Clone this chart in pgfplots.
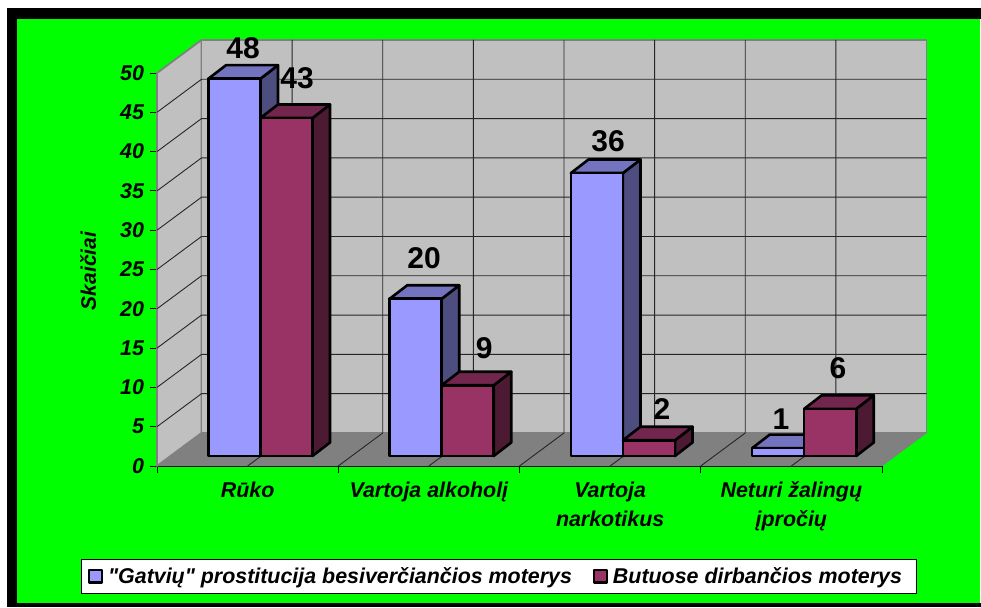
\documentclass[border=0pt]{standalone}
\usepackage{fontspec}
\setmainfont{Liberation Sans}[Ligatures=TeXOff]
\usepackage{pgfplots}
\pgfplotsset{compat=1.18}
\definecolor{Afront}{HTML}{9999FF}
\definecolor{Atop}{HTML}{7373BF}
\definecolor{Aside}{HTML}{4D4D80}
\definecolor{Bfront}{HTML}{993366}
\definecolor{Btop}{HTML}{73264D}
\definecolor{Bside}{HTML}{4D1A33}
\definecolor{wall}{HTML}{C0C0C0}
\definecolor{floorc}{HTML}{808080}
\tikzset{
  wallline/.style={draw=floorc,line width=1.8pt,line join=round},
  gl/.style={draw=black!85,line width=0.9pt},
  face/.style={draw=black,line width=2.6pt,line join=round},
  lab/.style={font=\bfseries\fontsize{30}{32}\selectfont,anchor=center,inner sep=0pt}
}
\begin{document}
\begin{tikzpicture}
\useasboundingbox (0pt,0pt) rectangle (981pt,607pt);
\fill[white] (0pt,0pt) rectangle (981pt,607pt);
\fill[black] (7pt,0pt) rectangle (981pt,599pt);
\fill[green] (17pt,4pt) rectangle (980pt,588pt);
\fill[white] (980pt,4pt) rectangle (981pt,588pt);
% walls, floor, grid, axes
\begin{axis}[
  at={(157pt,141pt)},anchor=south west,
  width=725pt,height=393pt,scale only axis,clip=false,
  xmin=0,xmax=4,ymin=0,ymax=50,
  axis lines*=left,axis line style={black,-,line width=0.9pt},
  tick style={black,line width=0.9pt},tick align=outside,major tick length=7pt,
  xtick={0,1,2,3,4},xticklabels={,,,,},
  extra x ticks={0.5,1.5,2.5,3.5},
  extra x tick labels={Rūko,Vartoja alkoholį,{Vartoja\\narkotikus},{Neturi žalingų\\įpročių}},
  extra x tick style={major tick length=0pt},
  ytick={0,5,...,50},
  /pgf/number format/assume math mode=true,
  tick label style={font=\bfseries\itshape\fontsize{21.4}{29}\selectfont},
  x tick label style={align=center,anchor=north,yshift=-12pt},
  y tick label style={xshift=-2.5pt},
  ylabel={Skaičiai},
  every axis y label/.style={at={(axis description cs:-0.095,0.496)},rotate=90,anchor=center,font=\bfseries\itshape\fontsize{21}{24}\selectfont},
]
\addplot[fill=wall,wallline] coordinates {(0,0)(0.2455,4.2)(0.2455,54.2)(0,50)} -- cycle;
\addplot[fill=wall,wallline] coordinates {(0.2455,4.2)(4.2455,4.2)(4.2455,54.2)(0.2455,54.2)} -- cycle;
\addplot[fill=floorc,draw=floorc] coordinates {(0,0)(4,0)(4.2455,4.2)(0.2455,4.2)} -- cycle;
\pgfplotsinvokeforeach{5,10,15,20,25,30,35,40,45}{
  \draw[gl] (axis cs:0,#1) -- (axis cs:0.2455,#1+4.2) -- (axis cs:4.2455,#1+4.2);
}
\pgfplotsinvokeforeach{0.5,1,1.5,2,2.5,3,3.5}{
  \draw[gl] (axis cs:#1,0) -- (axis cs:#1+0.2455,4.2) -- (axis cs:#1+0.2455,54.2);
}
\end{axis}
% bars
\begin{axis}[
  at={(169.8pt,151pt)},anchor=south west,
  width=725pt,height=393pt,scale only axis,clip=false,hide axis,
  xmin=0,xmax=4,ymin=0,ymax=50,
  legend style={at={(0.4534,-0.3066)},anchor=center,draw=black,line width=0.9pt,fill=white,
    font=\bfseries\itshape\fontsize{21.4}{24}\selectfont,inner xsep=7pt,inner ysep=6.5pt,
    /tikz/every even column/.append style={column sep=19pt},
    /tikz/every odd column/.append style={column sep=3pt}},
  legend columns=2,legend cell align=left,
]
% series A: side and top faces
\addplot[fill=Aside,face,forget plot] coordinates {(0.5,0)(0.597,1.72)(0.597,49.72)(0.5,48)} -- cycle;
\addplot[fill=Atop,face,forget plot] coordinates {(0.213,48)(0.31,49.72)(0.597,49.72)(0.5,48)} -- cycle;
\addplot[fill=Aside,face,forget plot] coordinates {(1.5,0)(1.597,1.72)(1.597,21.72)(1.5,20)} -- cycle;
\addplot[fill=Atop,face,forget plot] coordinates {(1.213,20)(1.31,21.72)(1.597,21.72)(1.5,20)} -- cycle;
\addplot[fill=Aside,face,forget plot] coordinates {(2.5,0)(2.597,1.72)(2.597,37.72)(2.5,36)} -- cycle;
\addplot[fill=Atop,face,forget plot] coordinates {(2.213,36)(2.31,37.72)(2.597,37.72)(2.5,36)} -- cycle;
\addplot[fill=Aside,face,forget plot] coordinates {(3.5,0)(3.597,1.72)(3.597,2.72)(3.5,1)} -- cycle;
\addplot[fill=Atop,face,forget plot] coordinates {(3.213,1)(3.31,2.72)(3.597,2.72)(3.5,1)} -- cycle;
% series A: front faces
\addplot[ybar,bar width=0.287,bar shift=0pt,fill=Afront,face,
  legend image code/.code={\draw[fill=Afront,draw=black,line width=2.2pt] (0pt,-6pt) rectangle (12.8pt,6.8pt);}]
  coordinates {(0.3565,48)(1.3565,20)(2.3565,36)(3.3565,1)};
\addlegendentry{"Gatvių" prostitucija besiverčiančios moterys}
% series B: side and top faces
\addplot[fill=Bside,face,forget plot] coordinates {(0.787,0)(0.884,1.72)(0.884,44.72)(0.787,43)} -- cycle;
\addplot[fill=Btop,face,forget plot] coordinates {(0.5,43)(0.597,44.72)(0.884,44.72)(0.787,43)} -- cycle;
\addplot[fill=Bside,face,forget plot] coordinates {(1.787,0)(1.884,1.72)(1.884,10.72)(1.787,9)} -- cycle;
\addplot[fill=Btop,face,forget plot] coordinates {(1.5,9)(1.597,10.72)(1.884,10.72)(1.787,9)} -- cycle;
\addplot[fill=Bside,face,forget plot] coordinates {(2.787,0)(2.884,1.72)(2.884,3.72)(2.787,2)} -- cycle;
\addplot[fill=Btop,face,forget plot] coordinates {(2.5,2)(2.597,3.72)(2.884,3.72)(2.787,2)} -- cycle;
\addplot[fill=Bside,face,forget plot] coordinates {(3.787,0)(3.884,1.72)(3.884,7.72)(3.787,6)} -- cycle;
\addplot[fill=Btop,face,forget plot] coordinates {(3.5,6)(3.597,7.72)(3.884,7.72)(3.787,6)} -- cycle;
% series B: front faces
\addplot[ybar,bar width=0.287,bar shift=0pt,fill=Bfront,face,
  legend image code/.code={\draw[fill=Bfront,draw=black,line width=2.2pt] (0pt,-6pt) rectangle (12.8pt,6.8pt);}]
  coordinates {(0.6435,43)(1.6435,9)(2.6435,2)(3.6435,6)};
\addlegendentry{Butuose dirbančios moterys\hspace*{5pt}}
% data labels
\node[lab] at (axis cs:0.404,51.9) {48};
\node[lab] at (axis cs:0.702,48.1) {43};
\node[lab] at (axis cs:1.403,25.2) {20};
\node[lab] at (axis cs:1.734,13.74) {9};
\node[lab] at (axis cs:2.418,40.08) {36};
\node[lab] at (axis cs:2.716,5.98) {2};
\node[lab] at (axis cs:3.372,4.71) {1};
\node[lab] at (axis cs:3.687,11.2) {6};
\end{axis}
\end{tikzpicture}
\end{document}
